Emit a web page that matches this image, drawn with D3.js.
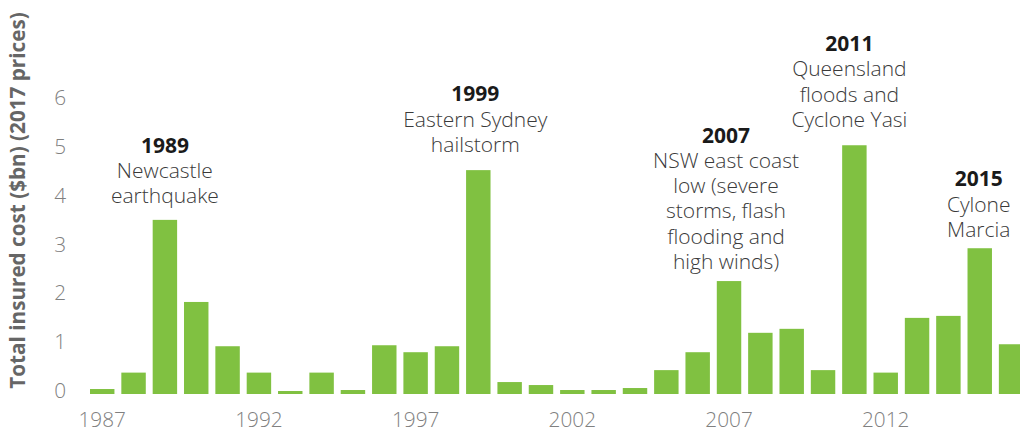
<!DOCTYPE html>
<html>
<head>
<meta charset="utf-8">
<script src="https://cdn.jsdelivr.net/npm/d3@7"></script>
<style>
  html, body { margin: 0; padding: 0; background: #fff; }
  svg { display: block; font-family: "Open Sans", sans-serif; }
</style>
</head>
<body>
<svg id="chart" width="1020" height="430"></svg>
<script>
// ---- data ----
const years = [1987, 1988, 1989, 1990, 1991, 1992, 1993, 1994, 1995, 1996,
               1997, 1998, 1999, 2000, 2001, 2002, 2003, 2004, 2005, 2006,
               2007, 2008, 2009, 2010, 2011, 2012, 2013, 2014, 2015, 2016];
const insuredCost = [0.10, 0.43, 3.50, 1.85, 0.96, 0.43, 0.06, 0.43, 0.08, 0.98,
                     0.84, 0.96, 4.50, 0.24, 0.18, 0.08, 0.08, 0.12, 0.48, 0.84,
                     2.27, 1.23, 1.31, 0.48, 5.00, 0.43, 1.53, 1.57, 2.93, 1.00];
const yTicks = [0, 1, 2, 3, 4, 5, 6];
const xTickYears = [1987, 1992, 1997, 2002, 2007, 2012];
const annotationYears = [1989, 1999, 2007, 2011, 2015];
const annotationLines = [
  ["Newcastle", "earthquake"],
  ["Eastern Sydney", "hailstorm"],
  ["NSW east coast", "low (severe", "storms, flash", "flooding and", "high winds)"],
  ["Queensland", "floods and", "Cyclone Yasi"],
  ["Cylone", "Marcia"]
];
const yTitle = "Total insured cost ($bn) (2017 prices)";

// ---- layout ----
const svg = d3.select("#chart");
const x = d3.scaleBand().domain(years).range([86.55, 1026.75])
  .paddingInner(0.22).paddingOuter(0.11);
const y = d3.scaleLinear().domain([0, 6]).range([394, 95.5]);
const yLabel = d3.scaleLinear().domain([0, 6]).range([390.3, 96.7]);

const green = "#80c141";
const fontSize = 21;
const tickFont = 20.8;
const lineH = 25.3;

// bars
svg.append("g").selectAll("rect")
  .data(years.map((yr, i) => ({ yr, v: insuredCost[i] })))
  .join("rect")
  .attr("x", d => x(d.yr))
  .attr("y", d => y(d.v))
  .attr("width", x.bandwidth())
  .attr("height", d => y(0) - y(d.v))
  .attr("fill", green);

// y axis labels
const yAxis = d3.axisLeft(yLabel).tickValues(yTicks).tickSize(0).tickPadding(0).tickFormat(d3.format("d"));
const gy = svg.append("g").attr("transform", "translate(66,0)").call(yAxis);
gy.select(".domain").remove();
gy.selectAll("text")
  .attr("font-family", "Open Sans, sans-serif")
  .attr("font-size", tickFont)
  .attr("font-weight", 300)
  .attr("fill", "#808080")
  .attr("dy", "0.36em");

// x axis labels
const xAxis = d3.axisBottom(x).tickValues(xTickYears).tickSize(0).tickPadding(0);
const gx = svg.append("g").attr("transform", "translate(0,426.5)").call(xAxis);
gx.select(".domain").remove();
gx.selectAll("text")
  .attr("font-family", "Open Sans, sans-serif")
  .attr("font-size", tickFont)
  .attr("font-weight", 300)
  .attr("fill", "#808080")
  .attr("dy", 0);

// y title
svg.append("text")
  .attr("transform", "translate(25,200.5) rotate(-90)")
  .attr("text-anchor", "middle")
  .attr("font-size", 20.7)
  .attr("font-weight", 700)
  .attr("fill", "#666666")
  .text(yTitle);

// annotations: gap between last baseline and bar top
const annGap = { 1989: 16.7, 1999: 18.3, 2007: 12, 2011: 18.3, 2015: 11.3 };
const annDx = { 1989: 0, 1999: -3, 2007: -3, 2011: -5, 2015: -1 };
annotationYears.forEach((yr, i) => {
  const lines = annotationLines[i];
  const v = insuredCost[years.indexOf(yr)];
  const cx = x(yr) + x.bandwidth() / 2 + annDx[yr];
  const lastBase = y(v) - annGap[yr];
  const firstBase = lastBase - lines.length * lineH;
  const t = svg.append("text")
    .attr("text-anchor", "middle")
    .attr("font-size", fontSize);
  t.append("tspan")
    .attr("x", cx).attr("y", firstBase)
    .attr("font-weight", 700).attr("fill", "#1a1a1a")
    .text(yr);
  lines.forEach((ln, j) => {
    t.append("tspan")
      .attr("x", cx).attr("y", firstBase + (j + 1) * lineH)
      .attr("font-weight", 300).attr("fill", "#3a3a3a")
      .text(ln);
  });
});
</script>
</body>
</html>
